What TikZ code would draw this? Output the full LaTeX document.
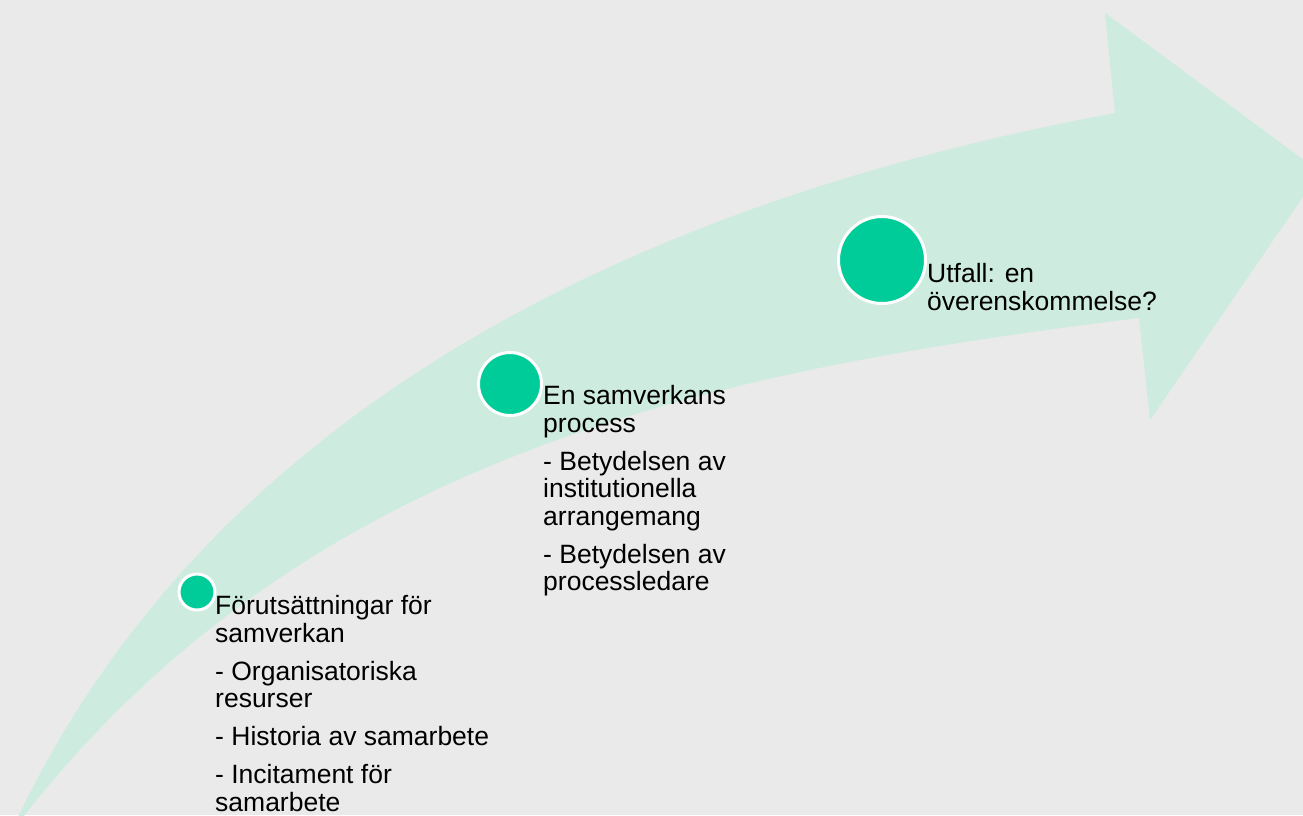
\documentclass[tikz,border=0pt]{standalone}
\usepackage{fontspec}
\setmainfont{Liberation Sans}
\definecolor{bggray}{HTML}{EAEAEA}
\definecolor{mint}{HTML}{CDECDF}
\definecolor{stagegreen}{HTML}{00CC99}
\begin{document}
\begin{tikzpicture}[x=1pt,y=-1pt,
    stage/.style={circle,fill=stagegreen,draw=white,line width=3pt,inner sep=0pt},
    stagetext/.style={anchor=north west,inner sep=0pt,align=left,
      font=\fontsize{26.5}{27.5}\selectfont}]
            \useasboundingbox (0,0) rectangle (1303,815);
            \fill[bggray] (0,0) rectangle (1303,815);
            \clip (0,0) rectangle (1303,815);
            \fill[mint] (10,834) .. controls (200,420) and (620,205) .. (1115,113)
                -- (1105,13) -- (1320,172) -- (1150,420) -- (1139,318)
                .. controls (720,370) and (300,450) .. (10,834) -- cycle;
            \node[stage,minimum size=36pt] (pre) at (197,592) {};
            \node[stage,minimum size=63pt] (proc) at (510,384) {};
            \node[stage,minimum size=87pt] (out) at (882,260) {};
            \node[stagetext] (pretext) at (215,595.5) {Förutsättningar för\\samverkan\\[10.5pt]- Organisatoriska\\resurser\\[10.5pt]- Historia av samarbete\\[10.5pt]- Incitament för\\samarbete};
            \node[stagetext] (proctext) at (543,385.5) {En samverkans\\process\\[10.5pt]- Betydelsen av\\institutionella\\arrangemang\\[10.5pt]- Betydelsen av\\processledare};
            \node[stagetext] (outtext) at (927,263.5) {Utfall: en\\överenskommelse?};
        \end{tikzpicture}
\end{document}
